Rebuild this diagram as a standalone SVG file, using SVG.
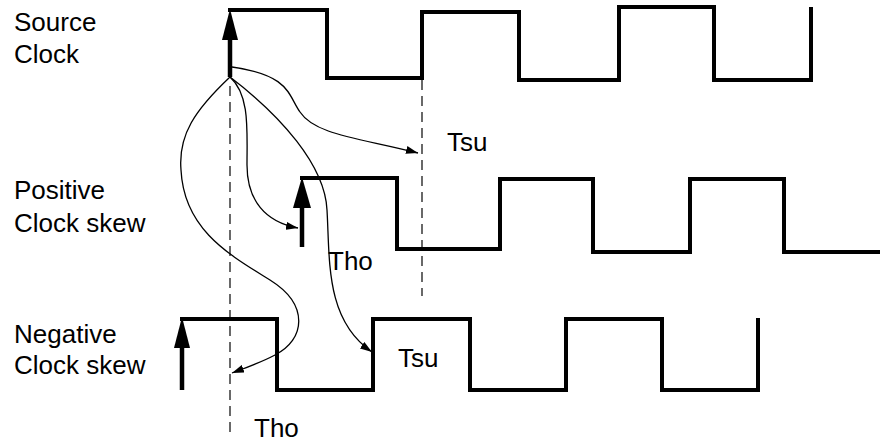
<svg xmlns="http://www.w3.org/2000/svg" width="880" height="442" viewBox="0 0 880 442">
<style>
.wave{fill:none;stroke:#000;stroke-width:4;stroke-linejoin:miter;stroke-linecap:square}
.edge{stroke:#000;stroke-width:4.5;fill:none}
.head{fill:#000}
.dash{fill:none;stroke:#444;stroke-width:1.6;stroke-dasharray:10,6}
.curve{fill:none;stroke:#000;stroke-width:1.3}
.lbl{font-family:"Liberation Sans",Arial,Helvetica,sans-serif;font-size:26px;fill:#000}
</style>
<defs>
<marker id="ah" viewBox="0 0 12 8" markerWidth="12" markerHeight="8" refX="12" refY="4" orient="auto" markerUnits="userSpaceOnUse">
<path d="M0,0 L12,4 L0,8 z" fill="#000"/>
</marker>
</defs>
<rect width="880" height="442" fill="#fff"/>

<g id="labels">
<text class="lbl" x="14" y="31">Source</text>
<text class="lbl" x="14" y="63">Clock</text>
<text class="lbl" x="14" y="199">Positive</text>
<text class="lbl" x="14" y="232">Clock skew</text>
<text class="lbl" x="14" y="343">Negative</text>
<text class="lbl" x="14" y="374">Clock skew</text>
</g>

<g id="guides">
<line class="dash" x1="230" y1="86" x2="230" y2="438"/>
<line class="dash" x1="422" y1="80" x2="422" y2="296"/>
</g>

<g id="source-clock">
<path class="wave" d="M230,10 H327 V78 H422 V12 H519 V80 H619 V7 H714 V80 H811 V9"/>
<line class="edge" x1="230" y1="77" x2="230" y2="36"/>
<polygon class="head" points="230,9 222,40 238,40"/>
</g>

<g id="positive-clock">
<path class="wave" d="M302,178 H397 V249 H500 V179 H593 V252 H690 V179 H784 V252 H880"/>
<line class="edge" x1="302" y1="247" x2="302" y2="204"/>
<polygon class="head" points="302,177 293,208 311,208"/>
</g>

<g id="negative-clock">
<path class="wave" d="M182,319 H277 V390 H373 V319 H470 V390 H566 V319 H662 V390 H758 V320"/>
<line class="edge" x1="182" y1="390" x2="182" y2="344"/>
<polygon class="head" points="182,317 174,348 190,348"/>
</g>

<g id="connectors">
<path class="curve" marker-end="url(#ah)" d="M232,67 C290,75 288,95 300,112 C315,135 360,138 418,153"/>
<path class="curve" marker-end="url(#ah)" d="M230,77 C250,95 247,130 247,165 C247,200 265,222 298,228"/>
<path class="curve" marker-end="url(#ah)" d="M230,77 C280,115 325,165 327,210 C330,260 325,320 372,352"/>
<path class="curve" marker-end="url(#ah)" d="M230,77 C195,110 178,135 181,170 C184,230 230,255 270,280 C310,305 305,340 275,355 C260,363 245,368 232,373"/>
</g>

<g id="timing-labels">
<text class="lbl" x="447" y="151">Tsu</text>
<text class="lbl" x="328" y="270">Tho</text>
<text class="lbl" x="398" y="367">Tsu</text>
<text class="lbl" x="254" y="437">Tho</text>
</g>
</svg>
